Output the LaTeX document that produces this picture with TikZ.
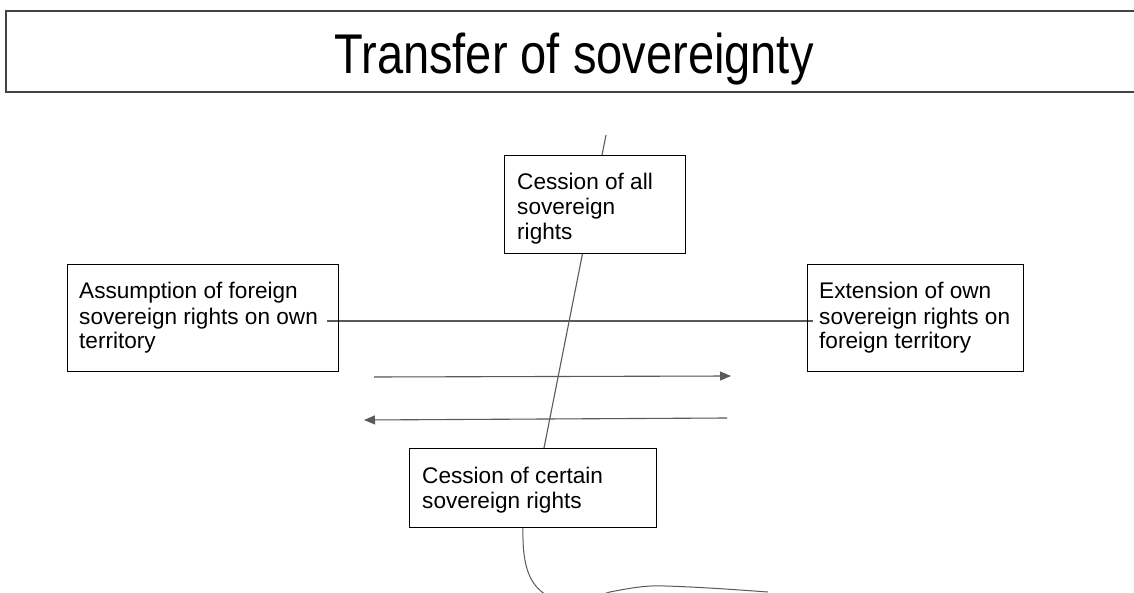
\documentclass[tikz,border=0pt]{standalone}
\usepackage{graphicx}
\usepackage{fontspec}
\setmainfont{Liberation Sans}
\usetikzlibrary{arrows.meta}
\definecolor{lineGray}{HTML}{5A5A5A}
\definecolor{frameGray}{HTML}{444444}
\begin{document}
\begin{tikzpicture}[x=1pt,y=-1pt,
  boxframe/.style={draw=black, line width=1.1pt, inner sep=0pt, anchor=north west},
  boxtext/.style={anchor=base west, inner sep=0pt, font=\fontsize{22.6}{25}\selectfont},
  conn/.style={draw=lineGray, line width=1.1pt},
  arr/.style={conn, -{Triangle[length=11pt,width=9pt]}, fill=lineGray}]
\clip (0,0) rectangle (1134,593);
\fill[white] (0,0) rectangle (1134,593);
% title
\node[draw=frameGray, line width=1.8pt, inner sep=0pt, anchor=north west,
      minimum width=1160pt, minimum height=81pt] (tbox) at (5,10) {};
\node[anchor=base, inner sep=0pt] (title) at (574,74)
  {\fontsize{56}{60}\selectfont\scalebox{0.84}[1]{Transfer of sovereignty}};
% coordinates
\coordinate (ttop) at (606,135);
\coordinate (tbot) at (544,448);
\coordinate (hl) at (327,321);
\coordinate (hr) at (813,321);
\coordinate (a1s) at (374,377);
\coordinate (a1e) at (731,376);
\coordinate (a2s) at (727,418);
\coordinate (a2e) at (364,420);
\coordinate (c0) at (523,527);
\coordinate (c1) at (768,592);
% connectors behind boxes
\draw[conn] (ttop) -- (tbot);
\draw[conn] (hl) -- (hr);
\draw[arr] (a1s) -- (a1e);
\draw[arr] (a2s) -- (a2e);
\draw[conn, line width=1pt] (c0) .. controls (522,568) and (530,588) .. (552,598)
  .. controls (575,607) and (592,597) .. (610,592)
  .. controls (630,588) and (648,585) .. (665,586)
  .. controls (700,587) and (740,590) .. (c1);
% boxes
\node[boxframe, fill=white, minimum width=181pt, minimum height=98pt] (tb) at (504,155) {};
\node[boxtext] (tbt) at (517,190) {\parbox[t]{200pt}{Cession of all\\sovereign\\rights}};
\node[boxframe, minimum width=271pt, minimum height=107pt] (lb) at (67,264) {};
\node[boxtext] (lbt) at (79,299) {\parbox[t]{300pt}{Assumption of foreign\\sovereign rights on own\\territory}};
\node[boxframe, minimum width=216pt, minimum height=107pt] (rb) at (807,264) {};
\node[boxtext] (rbt) at (819,299) {\parbox[t]{300pt}{Extension of own\\sovereign rights on\\foreign territory}};
\node[boxframe, fill=white, minimum width=247pt, minimum height=79pt] (bb) at (409,448) {};
\node[boxtext] (bbt) at (422,483) {\parbox[t]{300pt}{Cession of certain\\sovereign rights}};
\end{tikzpicture}
\end{document}
